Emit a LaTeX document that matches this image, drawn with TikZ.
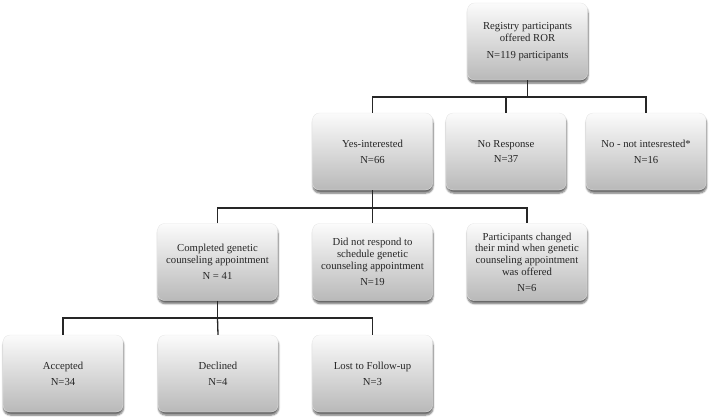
\documentclass[tikz,border=0pt]{standalone}
\usepackage{fontspec}
\setmainfont{Liberation Serif}
\usepackage{xcolor}
\usetikzlibrary{shadows.blur}

\begin{document}
\begin{tikzpicture}[x=1pt, y=-1pt,
    box/.style={rounded corners=7pt, top color=gray!3, bottom color=gray!55,
      draw=gray!20, line width=0.3pt, minimum width=120pt, minimum height=77pt,
      align=center, font=\fontsize{10.7}{11.8}\selectfont, inner sep=1pt,
      text=black!85,
      blur shadow={shadow xshift=0.5pt, shadow yshift=-3pt,
        shadow blur steps=6, shadow opacity=60}},
    link/.style={line width=1.3pt, black!85}]
    % Page frame
    \useasboundingbox (0,0) rectangle (709,420);

    % Top: everyone offered
    \node[box] (reg) at (527.5,41.5)
      {Registry participants\\offered ROR\\[5pt]N=119 participants};

    % First split
    \node[box] (yes) at (372.5,151.5) {Yes-interested\\[4pt]N=66};
    \node[box] (nores) at (506,151.5) {No Response\\[4pt]N=37};
    \node[box] (notint) at (646,151.5) {No - not intesrested*\\[4pt]N=16};

    % Second split
    \node[box] (compl) at (217.5,262)
      {Completed genetic\\counseling appointment\\[4pt]N = 41};
    \node[box] (noresp) at (372.5,262)
      {Did not respond to\\schedule genetic\\counseling appointment\\[4pt]N=19};
    \node[box] (changed) at (527,262)
      {Participants changed\\their mind when genetic\\counseling appointment\\was offered\\[4pt]N=6};

    % Outcome of counseling
    \node[box] (acc) at (63,373.5) {Accepted\\[4pt]N=34};
    \node[box] (decl) at (218,373.5) {Declined\\[4pt]N=4};
    \node[box] (lost) at (372.5,373.5) {Lost to Follow-up\\[4pt]N=3};

    % Tree lines
    \coordinate (bar1) at (527.5,97);
    \draw[link] (reg.south) -- (bar1);
    \draw[link] (yes.north) |- (bar1) -| (notint.north);
    \draw[link] (bar1 -| nores.north) -- (nores.north);

    \coordinate (bar2) at (372.5,208);
    \draw[link] (yes.south) -- (bar2);
    \draw[link] (compl.north) |- (bar2) -| (changed.north);
    \draw[link] (bar2) -- (noresp.north);

    \coordinate (bar3) at (217.5,318);
    \draw[link] (compl.south) -- (bar3);
    \draw[link] (acc.north) |- (bar3) -| (lost.north);
    \draw[link] (bar3) -- (decl.north);
  \end{tikzpicture}
\end{document}
